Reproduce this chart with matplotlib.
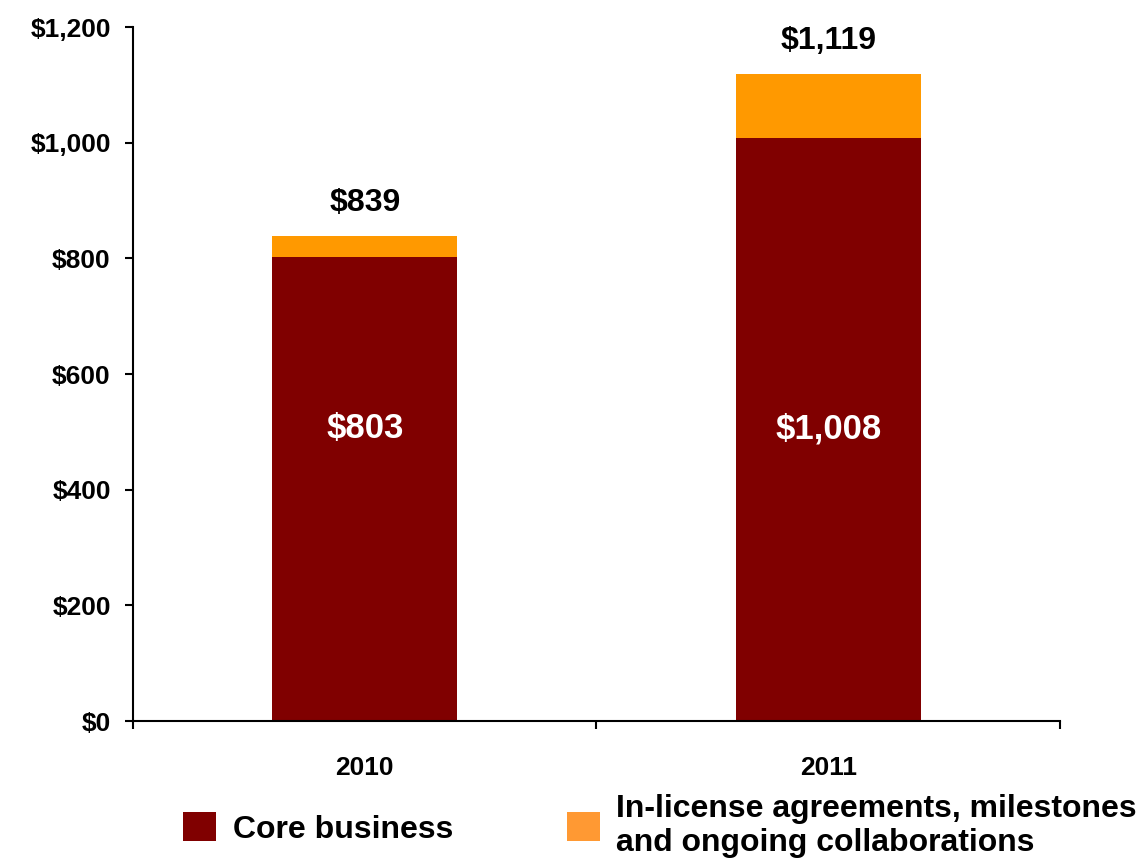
import matplotlib
matplotlib.use('Agg')
import matplotlib.pyplot as plt
from matplotlib.patches import Patch
import numpy as np

plt.rcParams['font.family'] = ['Liberation Sans', 'DejaVu Sans']
plt.rcParams['font.weight'] = 'bold'

# Revenue ($ millions)
years = ['2010', '2011']
core_business = [803, 1008]
in_license = [36, 111]
totals = [c + o for c, o in zip(core_business, in_license)]
y_ticks = [0, 200, 400, 600, 800, 1000, 1200]

CORE_COLOR = '#800000'
LICENSE_COLOR = '#FF9900'
LICENSE_LEGEND = '#FF9933'

fig = plt.figure(figsize=(11.39, 8.6), dpi=100)
ax = fig.add_axes([0.1168, 0.1616, 0.8138, 0.807])

x = np.arange(len(years)) + 0.5
ax.bar(x, core_business, width=0.4, color=CORE_COLOR)
ax.bar(x, in_license, width=0.4, bottom=core_business, color=LICENSE_COLOR)

for xi, core, total in zip(x, core_business, totals):
    ax.text(xi, 505, f"${core:,}", ha='center', va='center',
            color='white', fontsize=25, fontweight='bold')
    ax.annotate(f"${total:,}", (xi, total), xytext=(0, 13),
                textcoords='offset points', ha='center', va='bottom',
                fontsize=23, fontweight='bold')

ax.set_xlim(0, 2)
ax.set_ylim(0, 1200)
ax.set_yticks(y_ticks)
ax.set_yticklabels([f"${v:,}" for v in y_ticks])
ax.set_xticks([0, 1, 2])
ax.set_xticklabels([])
ax.set_xticks(x, minor=True)
ax.set_xticklabels(years, minor=True)

for side in ['top', 'right']:
    ax.spines[side].set_visible(False)
for side in ['left', 'bottom']:
    ax.spines[side].set_linewidth(1.5)

ax.tick_params(axis='y', direction='out', length=6, width=1.5,
               pad=10, labelsize=19)
ax.tick_params(axis='x', which='major', direction='out', length=6, width=1.5)
ax.tick_params(axis='x', which='minor', length=0, pad=25, labelsize=19)

handles = [Patch(facecolor=CORE_COLOR, edgecolor='none'),
           Patch(facecolor=LICENSE_LEGEND, edgecolor='none')]
labels = ['Core business',
          'In-license agreements, milestones\nand ongoing collaborations']
fig.legend(handles, labels, loc='center left',
           bbox_to_anchor=(183 / 1139, 1 - 826 / 860), ncol=2,
           frameon=False, fontsize=23, handlelength=1.03, handleheight=1.03,
           handletextpad=0.53, columnspacing=3.55, borderpad=0,
           borderaxespad=0, labelspacing=0)

plt.savefig('out.png', dpi=100)
plt.close()
